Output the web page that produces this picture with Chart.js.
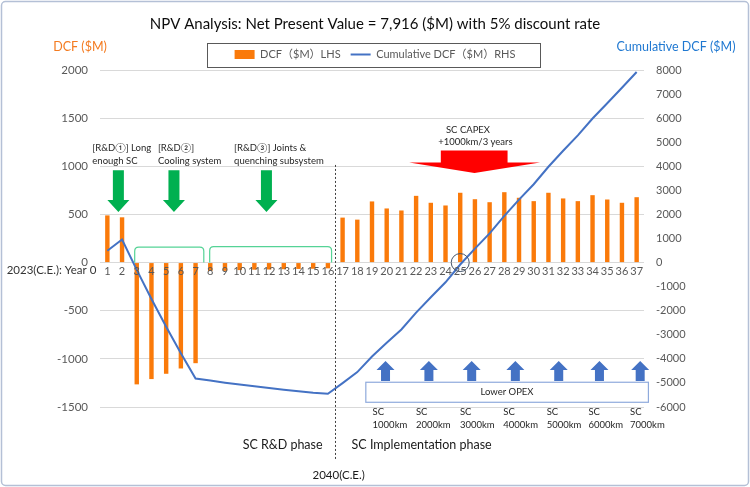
<!DOCTYPE html>
<html>
<head>
<meta charset="utf-8">
<script src="https://cdn.jsdelivr.net/npm/chart.js@4.4.1/dist/chart.umd.min.js"></script>
<style>
    html, body { margin: 0; padding: 0; background: #ffffff; }
    #wrap { width: 750px; height: 487px; }
</style>
</head>
<body>
<div id="wrap"><canvas id="npvChart" width="750" height="487"></canvas></div>
<script>

/*
    NPV analysis chart: yearly DCF bars (left axis)
    and cumulative DCF line (right axis).
*/

var FONT = "Lato, 'Noto Sans CJK JP', sans-serif";

var years = ['1', '2', '3', '4', '5', '6', '7', '8', '9', '10', '11', '12', '13',
             '14', '15', '16', '17', '18', '19', '20', '21', '22', '23', '24', '25',
             '26', '27', '28', '29', '30', '31', '32', '33', '34', '35', '36', '37'];

// DCF ($M) per year, LHS
var dcf = [490, 470, -1265, -1210, -1155, -1100, -1045, -88, -86, -78, -74, -72, -69,
           -66, -64, -60, 467, 446, 635, 562, 541, 693, 621, 593, 725,
           658, 627, 731, 673, 638, 725, 666, 638, 700, 655, 621, 679];

// Cumulative DCF ($M), RHS
var cumulative = [490, 960, -305, -1515, -2670, -3770, -4815, -4903, -4989, -5067, -5141, -5213, -5282,
                  -5348, -5412, -5450, -5010, -4550, -3900, -3330, -2780, -2080, -1440, -820, -80,
                  580, 1210, 1940, 2615, 3255, 3980, 4645, 5285, 5985, 6620, 7260, 7916];

var lhs_ticks = [-1500, 2000, 500];     // min, max, step
var rhs_ticks = [-6000, 8000, 1000];

var dcf_color = '#FA7A0A';
var cum_color = '#4472C4';



// Decorations drawn on top of the chart

function arrow(ctx, cx, base, neck, tip, shaft_w, head_w) {
    ctx.beginPath();
    ctx.moveTo(cx - shaft_w / 2, base);
    ctx.lineTo(cx + shaft_w / 2, base);
    ctx.lineTo(cx + shaft_w / 2, neck);
    ctx.lineTo(cx + head_w / 2, neck);
    ctx.lineTo(cx, tip);
    ctx.lineTo(cx - head_w / 2, neck);
    ctx.lineTo(cx - shaft_w / 2, neck);
    ctx.closePath();
    ctx.fill();
}

function bracket(ctx, x0, x1, top, bottom) {
    var r = 4;
    ctx.beginPath();
    ctx.moveTo(x0, bottom);
    ctx.lineTo(x0, top + r);
    ctx.quadraticCurveTo(x0, top, x0 + r, top);
    ctx.lineTo(x1 - r, top);
    ctx.quadraticCurveTo(x1, top, x1, top + r);
    ctx.lineTo(x1, bottom);
    ctx.stroke();
}

function text(ctx, str, x, y, size, color, align) {
    ctx.font = size + 'px ' + FONT;
    ctx.fillStyle = color;
    ctx.textAlign = align || 'left';
    ctx.textBaseline = 'middle';
    ctx.fillText(str, x, y);
}

var overlay = {
    id: 'overlay',

    beforeDraw: function(chart) {
        var ctx = chart.ctx;
        ctx.save();
        ctx.fillStyle = '#ffffff';
        ctx.fillRect(0, 0, chart.width, chart.height);
        ctx.restore();
    },

    afterDraw: function(chart) {
        var ctx = chart.ctx;
        var xs = chart.scales.x;
        var ys = chart.scales.y;
        var X = function(i) { return xs.getPixelForValue(i); };
        var Y = function(v) { return ys.getPixelForValue(v); };

        ctx.save();

        // outer frame
        ctx.strokeStyle = '#B4C0D6';
        ctx.lineWidth = 1.5;
        ctx.beginPath();
        ctx.roundRect(1.5, 1.5, chart.width - 3, chart.height - 3, 4);
        ctx.stroke();

        // legend frame
        var lg = chart.legend;
        if (lg && lg.legendHitBoxes && lg.legendHitBoxes.length) {
            var hb = lg.legendHitBoxes;
            var l = hb[0].left - 28;
            var r = hb[hb.length - 1].left + hb[hb.length - 1].width + 24;
            var cy = hb[0].top + hb[0].height / 2;
            ctx.strokeStyle = '#595959';
            ctx.lineWidth = 1;
            ctx.strokeRect(Math.round(l) + 0.5, Math.round(cy - 12) + 0.5, Math.round(r - l), 24);
        }

        // axis titles
        text(ctx, 'DCF ($M)', 80, 47, 12.5, '#F47B20', 'center');
        text(ctx, 'Cumulative DCF ($M)', 676, 47, 12.5, '#1F78D1', 'center');

        // year 0 label
        text(ctx, '2023(C.E.): Year 0', X(-0.75), Y(-80), 11.5, '#333333', 'right');

        // R&D brackets
        ctx.strokeStyle = '#55D396';
        ctx.lineWidth = 1.2;
        bracket(ctx, X(1.86), X(6.56), Y(160), Y(0));
        bracket(ctx, X(6.96), X(15.25), Y(165), Y(0));

        // R&D arrows and texts
        ctx.fillStyle = '#00B050';
        [0.75, 4.53, 10.82].forEach(function(i) {
            arrow(ctx, X(i), Y(960), Y(650), Y(525), 11, 22);
        });
        text(ctx, '[R&D\u2460] Long', X(-1.02), Y(1190), 9.5, '#262626');
        text(ctx, 'enough SC', X(-1.02), Y(1060), 9.5, '#262626');
        text(ctx, '[R&D\u2461]', X(3.44), Y(1190), 9.5, '#262626');
        text(ctx, 'Cooling system', X(3.44), Y(1060), 9.5, '#262626');
        text(ctx, '[R&D\u2462] Joints &', X(8.62), Y(1190), 9.5, '#262626');
        text(ctx, 'quenching subsystem', X(8.62), Y(1060), 9.5, '#262626');

        // SC CAPEX arrow
        ctx.fillStyle = '#FF0000';
        ctx.beginPath();
        ctx.moveTo(X(22.68), Y(1165));
        ctx.lineTo(X(27.22), Y(1165));
        ctx.lineTo(X(27.22), Y(1040));
        ctx.lineTo(X(29.43), Y(1040));
        ctx.lineTo(X(24.97), Y(930));
        ctx.lineTo(X(20.53), Y(1040));
        ctx.lineTo(X(22.68), Y(1040));
        ctx.closePath();
        ctx.fill();
        text(ctx, 'SC CAPEX', X(23.03), Y(1377), 9.5, '#262626');
        text(ctx, '+1000km/3 years', X(22.5), Y(1256), 9.5, '#262626');

        // break-even circle
        ctx.strokeStyle = '#44546A';
        ctx.lineWidth = 1;
        ctx.beginPath();
        ctx.arc(X(24), Y(0), 9, 0, Math.PI * 2);
        ctx.stroke();

        // phase divider
        ctx.strokeStyle = '#404040';
        ctx.setLineDash([2, 2]);
        ctx.beginPath();
        ctx.moveTo(Math.round(X(15.5)) + 0.5, Y(1014));
        ctx.lineTo(Math.round(X(15.5)) + 0.5, Y(-2050));
        ctx.stroke();
        ctx.setLineDash([]);
        text(ctx, 'SC R&D phase', X(14.64), Y(-1894), 12.5, '#1a1a1a', 'right');
        text(ctx, 'SC Implementation phase', X(16.61), Y(-1894), 12.5, '#1a1a1a', 'left');
        text(ctx, '2040(C.E.)', X(15.73), Y(-2206), 11.5, '#1a1a1a', 'center');

        // OPEX arrows, box and labels
        ctx.fillStyle = '#4472C4';
        [18.92, 21.87, 24.78, 27.75, 30.70, 33.47, 36.24].forEach(function(i) {
            arrow(ctx, X(i), Y(-1230), Y(-1115), Y(-1022), 9, 18);
        });
        ctx.fillStyle = '#ffffff';
        ctx.strokeStyle = '#8FAADC';
        ctx.lineWidth = 1.2;
        ctx.fillRect(X(17.58), Y(-1243), X(36.8) - X(17.58), Y(-1451) - Y(-1243));
        ctx.strokeRect(X(17.58), Y(-1243), X(36.8) - X(17.58), Y(-1451) - Y(-1243));
        text(ctx, 'Lower OPEX', X(27.18), Y(-1344), 9.5, '#262626', 'center');

        var sc_pos = [18.04, 20.99, 23.98, 26.93, 29.88, 32.72, 35.55];
        var sc_km = ['1000km', '2000km', '3000km', '4000km', '5000km', '6000km', '7000km'];
        for (var k = 0; k < sc_pos.length; k++) {
            text(ctx, 'SC', X(sc_pos[k]), Y(-1548), 9.5, '#262626');
            text(ctx, sc_km[k], X(sc_pos[k]), Y(-1687), 9.5, '#262626');
        }

        ctx.restore();
    }
};



var ctx = document.getElementById('npvChart').getContext('2d');

var chart_object = new Chart(ctx, {
    data: {
        labels: years,
        datasets: [
            {
                type: 'bar',
                label: 'DCF\uFF08$M\uFF09LHS',
                data: dcf,
                yAxisID: 'y',
                backgroundColor: dcf_color,
                borderWidth: 0,
                barPercentage: 0.3,
                categoryPercentage: 1.0,
                pointStyle: 'rect',
                order: 2,
            },
            {
                type: 'line',
                label: 'Cumulative DCF\uFF08$M\uFF09RHS',
                data: cumulative,
                yAxisID: 'y1',
                borderColor: cum_color,
                backgroundColor: cum_color,
                borderWidth: 2,
                pointRadius: 0,
                tension: 0,
                pointStyle: 'line',
                order: 1,
            },
        ],
    },

    options: {
        responsive: false,
        animation: false,
        layout: {padding: {top: 6, bottom: 80, left: 0, right: 0}},

        scales: {
            x: {
                type: 'category',
                axis: 'x',
                position: {y: 0},
                grid: {display: false, drawTicks: false},
                border: {display: false},
                ticks: {
                    z: 1,
                    color: '#595959',
                    font: {size: 11, family: FONT},
                    padding: 2,
                    autoSkip: false,
                    maxRotation: 0,
                },
            },
            y: {
                position: 'left',
                min: lhs_ticks[0],
                max: lhs_ticks[1],
                border: {display: false},
                grid: {color: '#D9D9D9', drawTicks: false},
                ticks: {
                    stepSize: lhs_ticks[2],
                    color: '#595959',
                    font: {size: 11.5, family: FONT},
                    padding: 12,
                    callback: function(value) { return String(value); },
                },
                afterFit: function(scale) { scale.width = 100; },
            },
            y1: {
                position: 'right',
                min: rhs_ticks[0],
                max: rhs_ticks[1],
                border: {display: false},
                grid: {drawOnChartArea: false, drawTicks: false},
                ticks: {
                    stepSize: rhs_ticks[2],
                    color: '#595959',
                    font: {size: 11, family: FONT},
                    padding: 12,
                    callback: function(value) { return String(value); },
                },
                afterFit: function(scale) { scale.width = 106; },
            },
        },

        plugins: {
            title: {
                display: true,
                text: 'NPV Analysis: Net Present Value = 7,916 ($M) with 5% discount rate',
                color: '#0d0d0d',
                font: {size: 15, family: FONT, weight: 'normal'},
                padding: {top: 9, bottom: 6},
            },
            legend: {
                display: true,
                labels: {
                    usePointStyle: true,
                    pointStyleWidth: 20,
                    boxHeight: 9,
                    padding: 10,
                    color: '#595959',
                    font: {size: 11, family: FONT},
                    sort: function(a, b) { return a.datasetIndex - b.datasetIndex; },
                },
            },
            tooltip: {enabled: false},
        },
    },

    plugins: [overlay],
});

</script>
</body>
</html>
